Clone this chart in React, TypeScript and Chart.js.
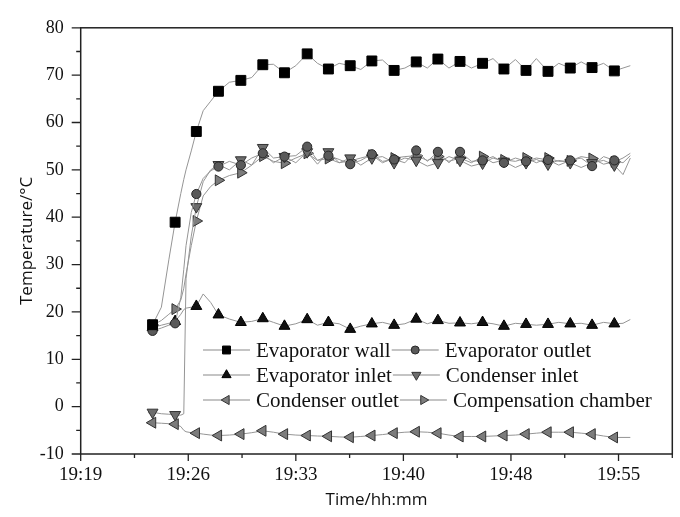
import React, { useEffect, useRef } from 'react';
import { Chart, registerables } from 'chart.js';
import { drawPoint } from 'chart.js/helpers';

Chart.register(...registerables);

// time in minutes after 19:19
const timeMin = [
  4.5, 4.81, 5.4, 5.9, 6.32, 6.7, 6.9, 7.05, 7.4, 7.74,
  8.2, 8.7, 9.22, 9.95, 10.72, 11.45, 12.19, 12.9, 13.64, 14.4,
  15.16, 15.85, 16.58, 17.3, 18.04, 18.75, 19.49, 20.2, 20.98, 21.7,
  22.46, 23.2, 23.91, 24.65, 25.39, 26.15, 26.9, 27.6, 28.33, 29.1,
  29.81, 30.5, 31.28, 32.0, 32.77, 33.5, 34.23, 35.0, 35.72, 36.3, 36.79,
];

const markerTimes = [
  4.81, 6.32, 7.74, 9.22, 10.72, 12.19, 13.64, 15.16, 16.58, 18.04, 19.49,
  20.98, 22.46, 23.91, 25.39, 26.9, 28.33, 29.81, 31.28, 32.77, 34.23, 35.72,
];

const evaporatorWall = [
  17.0, 17.3, 21.0, 31.0, 38.95, 45.0, 48.0, 50.0, 54.0, 58.1,
  62.5, 64.5, 66.6, 68.5, 68.9, 69.5, 72.2, 72.3, 70.5, 72.0,
  74.5, 72.5, 71.3, 72.5, 72.0, 71.2, 73.0, 73.2, 71.0, 71.5,
  72.8, 71.5, 73.4, 71.5, 72.9, 71.5, 72.5, 73.5, 71.3, 73.3,
  71.0, 73.5, 70.8, 72.5, 71.5, 72.8, 71.6, 72.5, 70.9, 71.5, 72.0,
];

const evaporatorOutlet = [
  15.8, 16.0, 16.6, 17.2, 17.6, 23.0, 29.0, 34.0, 41.0, 44.9,
  48.2, 49.8, 50.7, 51.8, 51.0, 52.5, 53.5, 51.5, 52.8, 53.0,
  54.9, 52.0, 53.0, 52.2, 51.2, 52.0, 53.3, 51.8, 52.2, 51.5,
  54.1, 51.8, 53.8, 51.5, 53.8, 51.8, 52.0, 52.8, 51.5, 52.5,
  51.8, 52.5, 52.1, 51.0, 52.0, 52.5, 50.8, 52.8, 52.0, 51.5, 53.0,
];

const evaporatorInlet = [
  16.5, 16.7, 17.2, 17.6, 18.0, 19.5, 20.5, 20.8, 21.0, 21.2,
  23.8, 22.0, 19.4, 18.5, 17.8, 18.0, 18.6, 17.8, 17.0, 17.5,
  18.4, 17.2, 17.8, 17.5, 16.35, 17.0, 17.5, 17.8, 17.2, 17.5,
  18.5, 17.5, 18.2, 17.6, 17.7, 17.5, 17.8, 17.5, 17.0, 17.6,
  17.4, 17.2, 17.4, 17.8, 17.5, 17.6, 17.2, 17.8, 17.5, 17.6, 18.4,
];

const condenserInlet = [
  -1.3, -1.2, -1.5, -1.6, -1.7, -1.8, -1.5, 27.0, 36.0, 42.2,
  47.5, 50.0, 51.1, 50.0, 52.1, 51.0, 54.7, 52.5, 52.8, 51.5,
  53.8, 51.2, 53.8, 51.5, 52.5, 51.0, 52.5, 52.8, 51.5, 52.5,
  52.0, 50.8, 51.5, 52.8, 52.0, 50.8, 51.4, 52.5, 51.8, 50.5,
  51.5, 52.2, 51.2, 52.0, 51.5, 50.5, 51.5, 52.0, 51.0, 49.0, 52.5,
];

const condenserOutlet = [
  -3.2, -3.4, -3.5, -3.6, -3.7, -4.2, -5.0, -5.3, -5.5, -5.6,
  -5.8, -6.0, -6.1, -6.0, -5.8, -5.5, -5.1, -5.4, -5.8, -6.0,
  -6.1, -6.2, -6.26, -6.4, -6.46, -6.3, -6.1, -5.9, -5.6, -5.4,
  -5.3, -5.4, -5.6, -6.0, -6.3, -6.3, -6.3, -6.2, -6.1, -6.0,
  -5.8, -5.6, -5.4, -5.4, -5.4, -5.6, -5.8, -6.2, -6.5, -6.5, -6.5,
];

const compensationChamber = [
  16.8, 17.2, 18.2, 19.5, 20.6, 22.5, 25.0, 28.0, 34.0, 39.2,
  44.5, 46.5, 47.8, 48.8, 49.4, 51.0, 52.9, 51.8, 51.4, 52.5,
  53.5, 52.0, 52.4, 51.5, 51.9, 52.5, 53.1, 51.5, 52.5, 52.8,
  53.0, 52.0, 52.8, 51.8, 52.5, 51.5, 52.8, 51.5, 52.1, 51.8,
  52.5, 51.5, 52.5, 51.8, 51.9, 52.8, 52.4, 51.2, 51.7, 52.5, 53.5,
];

const seriesLabels = [
  'Evaporator wall',
  'Evaporator outlet',
  'Evaporator inlet',
  'Condenser inlet',
  'Condenser outlet',
  'Compensation chamber',
];
const seriesValues = [
  evaporatorWall,
  evaporatorOutlet,
  evaporatorInlet,
  condenserInlet,
  condenserOutlet,
  compensationChamber,
];

const xTickValues = [0, 7.2, 14.4, 21.6, 28.8, 36];
const xTickLabels = ['19:19', '19:26', '19:33', '19:40', '19:48', '19:55'];
const xMinorValues = [3.6, 10.8, 18, 25.2, 32.4, 39.6];
const yMajorValues = [-10, 0, 10, 20, 30, 40, 50, 60, 70, 80];
const yMinorValues = [-5, 5, 15, 25, 35, 45, 55, 65, 75];

const X_MIN = 0;
const X_MAX = 39.6;
const Y_MIN = -10;
const Y_MAX = 80;

const seriesStyles = [
  { pointStyle: 'rect', rotation: 0, radius: 7, legendRadius: 5.6, fill: '#000000', border: '#000000' },
  { pointStyle: 'circle', rotation: 0, radius: 4.6, legendRadius: 4, fill: '#5a5a5a', border: '#262626' },
  { pointStyle: 'triangle', rotation: 0, radius: 6.3, legendRadius: 5.3, fill: '#111111', border: '#000000' },
  { pointStyle: 'triangle', rotation: 180, radius: 6.3, legendRadius: 5.3, fill: '#6c6c6c', border: '#333333' },
  { pointStyle: 'triangle', rotation: -90, radius: 6.3, legendRadius: 5.3, fill: '#7c7c7c', border: '#333333' },
  { pointStyle: 'triangle', rotation: 90, radius: 6.3, legendRadius: 5.3, fill: '#7c7c7c', border: '#333333' },
];

const LINE_COLOR = '#959595';
const AXIS_COLOR = '#222222';
const SERIF = '"Liberation Serif", "Times New Roman", serif';
const SANS = '"Open Sans", "DejaVu Sans", sans-serif';

const framePlugin = {
  id: 'frameTicksLegend',
  afterDraw(chart: any) {
    const { ctx, chartArea, scales } = chart;
    const xs = scales.x;
    const ys = scales.y;
    ctx.save();
    ctx.strokeStyle = AXIS_COLOR;
    ctx.lineWidth = 1.5;
    ctx.strokeRect(chartArea.left, chartArea.top, chartArea.right - chartArea.left, chartArea.bottom - chartArea.top);
    ctx.lineWidth = 1.3;
    ctx.beginPath();
    xTickValues.forEach((v) => {
      const px = xs.getPixelForValue(v);
      ctx.moveTo(px, chartArea.bottom);
      ctx.lineTo(px, chartArea.bottom + 7);
    });
    xMinorValues.forEach((v) => {
      const px = xs.getPixelForValue(v);
      ctx.moveTo(px, chartArea.bottom);
      ctx.lineTo(px, chartArea.bottom + 4);
    });
    yMajorValues.forEach((v) => {
      const py = ys.getPixelForValue(v);
      ctx.moveTo(chartArea.left, py);
      ctx.lineTo(chartArea.left - 9, py);
    });
    yMinorValues.forEach((v) => {
      const py = ys.getPixelForValue(v);
      ctx.moveTo(chartArea.left, py);
      ctx.lineTo(chartArea.left - 4.5, py);
    });
    ctx.stroke();

    // legend
    const rowsY = [350, 375, 400];
    const startX = 203;
    const lineLen = 47;
    const gap = 6;
    ctx.font = '21px ' + SERIF;
    ctx.textBaseline = 'middle';
    ctx.textAlign = 'left';
    for (let r = 0; r < 3; r++) {
      let x = startX;
      for (let c = 0; c < 2; c++) {
        const i = r * 2 + c;
        const st = seriesStyles[i];
        const y = rowsY[r];
        ctx.strokeStyle = '#8a8a8a';
        ctx.lineWidth = 1.2;
        ctx.beginPath();
        ctx.moveTo(x, y);
        ctx.lineTo(x + lineLen, y);
        ctx.stroke();
        ctx.fillStyle = st.fill;
        ctx.strokeStyle = st.border;
        ctx.lineWidth = 1;
        drawPoint(ctx, { pointStyle: st.pointStyle as any, rotation: st.rotation, radius: st.legendRadius, borderWidth: 1 }, x + lineLen / 2, y);
        ctx.fillStyle = '#111';
        ctx.fillText(seriesLabels[i], x + lineLen + gap, y + 1);
        x = x + lineLen + gap + ctx.measureText(seriesLabels[i]).width + 1;
      }
    }
    ctx.restore();
  },
};

export default function App() {
  const ref = useRef<HTMLCanvasElement>(null);
  useEffect(() => {
    document.body.style.margin = '0';
    const datasets = seriesValues.map((vals, i) => {
      const st = seriesStyles[i];
      return {
        label: seriesLabels[i],
        data: timeMin.map((t, k) => ({ x: t, y: vals[k] })),
        borderColor: LINE_COLOR,
        borderWidth: 1,
        backgroundColor: st.fill,
        pointBackgroundColor: st.fill,
        pointBorderColor: st.border,
        pointBorderWidth: 1,
        pointStyle: st.pointStyle,
        pointRotation: st.rotation,
        pointRadius: timeMin.map((t) => (markerTimes.includes(t) ? st.radius : 0)),
        pointHoverRadius: 0,
        tension: 0,
        fill: false,
      };
    });
    const chart = new Chart(ref.current as HTMLCanvasElement, {
      type: 'line',
      data: { datasets } as any,
      options: {
        responsive: false,
        animation: false,
        devicePixelRatio: 1,
        events: [],
        layout: { padding: { top: 13.3, right: 7.7, left: 0, bottom: 0 } },
        plugins: {
          legend: { display: false },
          tooltip: { enabled: false },
        },
        scales: {
          x: {
            type: 'linear',
            min: X_MIN,
            max: X_MAX,
            grid: { display: false, drawTicks: false },
            border: { display: false },
            afterBuildTicks: (scale: any) => {
              scale.ticks = xTickValues.map((v) => ({ value: v }));
            },
            afterFit: (scale: any) => {
              scale.height = 63;
            },
            ticks: {
              autoSkip: false,
              maxRotation: 0,
              padding: 10,
              color: '#111',
              font: { family: SERIF, size: 19 },
              callback: (_v: any, idx: number) => xTickLabels[idx],
            },
            title: {
              display: true,
              text: 'Time/hh:mm',
              color: '#111',
              font: { family: SANS, size: 17 },
              padding: { top: 0, bottom: 7 },
            },
          },
          y: {
            type: 'linear',
            min: Y_MIN,
            max: Y_MAX,
            grid: { display: false, drawTicks: false },
            border: { display: false },
            afterBuildTicks: (scale: any) => {
              scale.ticks = yMajorValues.map((v) => ({ value: v }));
            },
            afterFit: (scale: any) => {
              scale.width = 80.7;
            },
            ticks: {
              padding: 17,
              color: '#111',
              font: { family: SERIF, size: 18 },
            },
            title: {
              display: true,
              text: 'Temperature/°C',
              color: '#111',
              font: { family: SANS, size: 17 },
              padding: { top: 17, bottom: 0 },
            },
          },
        },
      } as any,
      plugins: [framePlugin],
    });
    return () => chart.destroy();
  }, []);
  return (
    <div style={{ width: 680, height: 517, position: 'relative', background: '#fff' }}>
      <canvas ref={ref} width={680} height={517} style={{ display: 'block', width: 680, height: 517 }} />
    </div>
  );
}
